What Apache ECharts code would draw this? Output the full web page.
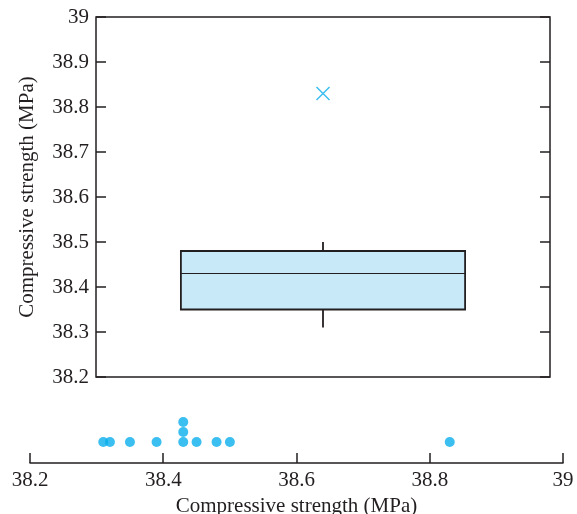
<!DOCTYPE html>
<html>
<head>
<meta charset="utf-8">
<script src="https://cdn.jsdelivr.net/npm/echarts@6/dist/echarts.min.js"></script>
<style>
html,body{margin:0;padding:0;background:#fff;}
#c{width:577px;height:514px;}
</style>
</head>
<body>
<div id="c"></div>
<script>
// Data
const strengths = [38.31, 38.32, 38.35, 38.39, 38.43, 38.43, 38.43, 38.45, 38.48, 38.50, 38.83];
const boxValues = [38.31, 38.35, 38.43, 38.48, 38.50]; // low whisker, Q1, median, Q3, high whisker
const outliers = [38.83];
const axisTitle = 'Compressive strength (MPa)';

// stack levels for dot plot (from duplicate counts)
const seen = {};
const dotData = strengths.map(v => {
  const k = v.toFixed(2);
  seen[k] = (seen[k] || 0);
  const lvl = seen[k];
  seen[k] += 1;
  return [v, lvl];
});

const font = 'Liberation Serif';
const ink = '#231f20';
const blue = '#0aaeec';

const chart = echarts.init(document.getElementById('c'), null, {renderer: 'canvas'});
chart.setOption({
  animation: false,
  backgroundColor: '#fff',
  grid: [
    {left: 96, top: 17, width: 454, height: 360, show: true, borderColor: ink, borderWidth: 1.5,
      backgroundColor: 'transparent', outerBoundsMode: 'none', containLabel: false},
    {left: 30, width: 533, top: 410, height: 53, outerBoundsMode: 'none', containLabel: false}
  ],
  xAxis: [
    {gridIndex: 0, type: 'value', min: 0, max: 1, show: false},
    {gridIndex: 1, type: 'value', min: 38.2, max: 39, interval: 0.2,
      axisLine: {show: true, onZero: false, lineStyle: {color: ink, width: 1.5}},
      axisTick: {show: true, inside: true, length: 10, lineStyle: {color: ink, width: 1.5}},
      splitLine: {show: false},
      axisLabel: {color: ink, fontFamily: font, fontSize: 21, margin: 7,
        formatter: v => (Math.round(v * 10) / 10).toString()},
      name: axisTitle, nameLocation: 'middle', nameGap: 33,
      nameTextStyle: {color: ink, fontFamily: font, fontSize: 21}
    }
  ],
  yAxis: [
    {gridIndex: 0, type: 'value', min: 38.2, max: 39, interval: 0.1, position: 'left',
      axisLine: {show: false},
      axisTick: {show: true, inside: true, length: 10, lineStyle: {color: ink, width: 1.5}},
      splitLine: {show: false},
      axisLabel: {color: ink, fontFamily: font, fontSize: 21, margin: 7,
        formatter: v => (Math.round(v * 10) / 10).toString()},
      name: axisTitle, nameLocation: 'middle', nameGap: 58,
      nameTextStyle: {color: ink, fontFamily: font, fontSize: 21}
    },
    {gridIndex: 0, type: 'value', min: 38.2, max: 39, interval: 0.1, position: 'right',
      axisLine: {show: false},
      axisTick: {show: true, inside: true, length: 10, lineStyle: {color: ink, width: 1.5}},
      splitLine: {show: false},
      axisLabel: {show: false}
    },
    {gridIndex: 1, type: 'value', min: -2.1, max: 3.2, show: false}
  ],
  series: [
    {
      type: 'custom',
      xAxisIndex: 0, yAxisIndex: 0,
      data: [[0.5].concat(boxValues)],
      renderItem: function (params, api) {
        const cx = api.value(0);
        const half = 0.313;
        const low = api.value(1), q1 = api.value(2), med = api.value(3), q3 = api.value(4), high = api.value(5);
        const tl = api.coord([cx - half, q3]);
        const br = api.coord([cx + half, q1]);
        const mL = api.coord([cx - half, med]);
        const mR = api.coord([cx + half, med]);
        const c = api.coord([cx, high]);
        const cq3 = api.coord([cx, q3]);
        const cq1 = api.coord([cx, q1]);
        const cl = api.coord([cx, low]);
        return {
          type: 'group',
          children: [
            {type: 'line', shape: {x1: c[0], y1: c[1], x2: cq3[0], y2: cq3[1]}, style: {stroke: ink, lineWidth: 1.8}},
            {type: 'line', shape: {x1: cq1[0], y1: cq1[1], x2: cl[0], y2: cl[1]}, style: {stroke: ink, lineWidth: 1.8}},
            {type: 'rect', shape: {x: tl[0], y: tl[1], width: br[0] - tl[0], height: br[1] - tl[1]},
              style: {fill: '#c7e9f8', stroke: ink, lineWidth: 1.8}},
            {type: 'line', shape: {x1: mL[0], y1: mL[1], x2: mR[0], y2: mR[1]}, style: {stroke: ink, lineWidth: 1}}
          ]
        };
      },
      z: 2
    },
    {
      type: 'scatter',
      xAxisIndex: 0, yAxisIndex: 0,
      data: outliers.map(v => [0.5, v]),
      symbol: 'path://M0,0L10,10M10,0L0,10',
      symbolSize: 13,
      itemStyle: {color: 'transparent', borderColor: blue, borderWidth: 1.5},
      z: 3
    },
    {
      type: 'scatter',
      xAxisIndex: 1, yAxisIndex: 2,
      data: dotData,
      symbol: 'circle',
      symbolSize: 10,
      itemStyle: {color: blue},
      z: 3
    }
  ]
});
</script>
</body>
</html>
